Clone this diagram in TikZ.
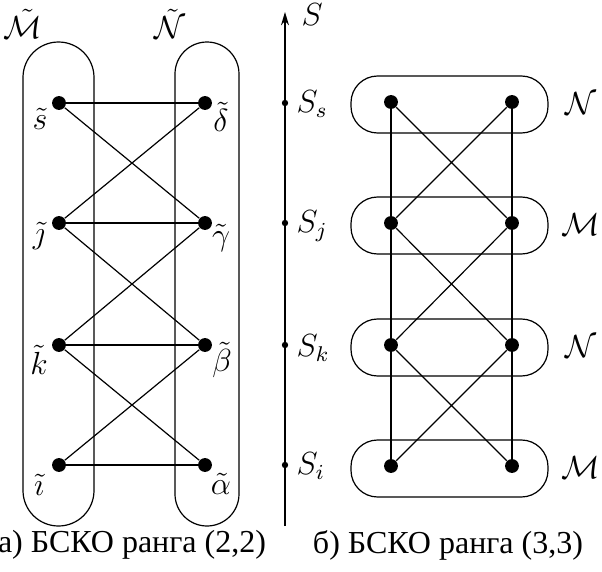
\documentclass[tikz,border=0pt]{standalone}
\usepackage{fontspec}
\newfontfamily\cyrfont{Liberation Serif}
\usetikzlibrary{arrows.meta}
\newcommand\cyrcap[1]{{\cyrfont\fontsize{12}{14}\selectfont #1}}
\tikzset{
  dotnode/.style={circle,fill=black,inner sep=0pt,minimum size=5.2pt},
  smalldot/.style={circle,fill=black,inner sep=0pt,minimum size=2.4pt},
  lbl/.style={inner sep=0pt,font=\large},
  edge/.style={line width=0.45pt},
  outline/.style={line width=0.45pt},
}
\begin{document}
\begin{tikzpicture}[x=0.375pt,y=-0.375pt]
\useasboundingbox (0,0) rectangle (602,572);
% ---------- left panel ----------
\draw[outline,rounded corners=13.3pt] (23,42) rectangle (94,526);
\draw[outline,rounded corners=12pt] (175,42) rectangle (239,526);
\node[lbl] (Mt) at (23,24) {$\tilde{\mathcal M}$};
\node[lbl] (Nt) at (170,24) {$\tilde{\mathcal N}$};
\node[dotnode] (s) at (59,103) {};
\node[dotnode] (j) at (59,223) {};
\node[dotnode] (k) at (59,345) {};
\node[dotnode] (i) at (59,465) {};
\node[dotnode] (d) at (205,103) {};
\node[dotnode] (g) at (205,223) {};
\node[dotnode] (b) at (205,345) {};
\node[dotnode] (a) at (205,465) {};
\node[lbl] (ls) at (40,119) {$\tilde s$};
\node[lbl] (lj) at (39,236) {$\tilde{\jmath}$};
\node[lbl] (lk) at (39,360) {$\tilde k$};
\node[lbl] (li) at (39,485) {$\tilde{\imath}$};
\node[lbl] (ld) at (221,117) {$\tilde\delta$};
\node[lbl] (lg) at (221,238) {$\tilde\gamma$};
\node[lbl] (lb) at (222,360) {$\tilde\beta$};
\node[lbl] (la) at (221,484) {$\tilde\alpha$};
\draw[edge] (s) -- (d) (j) -- (g) (k) -- (b) (i) -- (a);
\draw[edge] (s) -- (g) (d) -- (j) (j) -- (b) (g) -- (k) (k) -- (a) (b) -- (i);
\node[lbl] (capa) at (132,545) {\cyrcap{а) БСКО ранга (2,2)}};
% ---------- axis ----------
\coordinate (axb) at (285,526);
\coordinate (axt) at (285,12);
\draw[edge,-{Stealth[length=5pt,width=3pt]}] (axb) -- (axt);
\node[lbl,anchor=west] (S) at (301,15) {$S$};
\node[smalldot] (Ss) at (285,103) {};
\node[smalldot] (Sj) at (285,223) {};
\node[smalldot] (Sk) at (285,345) {};
\node[smalldot] (Si) at (285,465) {};
\node[lbl,anchor=west] (lSs) at (296,104) {$S_s$};
\node[lbl,anchor=west] (lSj) at (296,226) {$S_j$};
\node[lbl,anchor=west] (lSk) at (296,348) {$S_k$};
\node[lbl,anchor=west] (lSi) at (296,466) {$S_i$};
% ---------- right panel ----------
\foreach \y/\n in {102/1,223/2,345/3,466/4}{
  \draw[outline,rounded corners=10pt] (351,\y-26) rectangle (548,\y+31);
}
\node[dotnode] (a1) at (391,102) {};
\node[dotnode] (a2) at (391,223) {};
\node[dotnode] (a3) at (391,345) {};
\node[dotnode] (a4) at (391,466) {};
\node[dotnode] (b1) at (512,102) {};
\node[dotnode] (b2) at (512,223) {};
\node[dotnode] (b3) at (512,345) {};
\node[dotnode] (b4) at (512,466) {};
\draw[edge] (a1) -- (a2) -- (a3) -- (a4) (b1) -- (b2) -- (b3) -- (b4);
\draw[edge] (a1) -- (b2) (b1) -- (a2) (a2) -- (b3) (b2) -- (a3) (a3) -- (b4) (b3) -- (a4);
\node[lbl] (R1) at (581,104) {$\mathcal N$};
\node[lbl] (R2) at (581,225) {$\mathcal M$};
\node[lbl] (R3) at (581,347) {$\mathcal N$};
\node[lbl] (R4) at (581,468) {$\mathcal M$};
\node[lbl] (capb) at (448,545) {\cyrcap{б) БСКО ранга (3,3)}};
\end{tikzpicture}
\end{document}
